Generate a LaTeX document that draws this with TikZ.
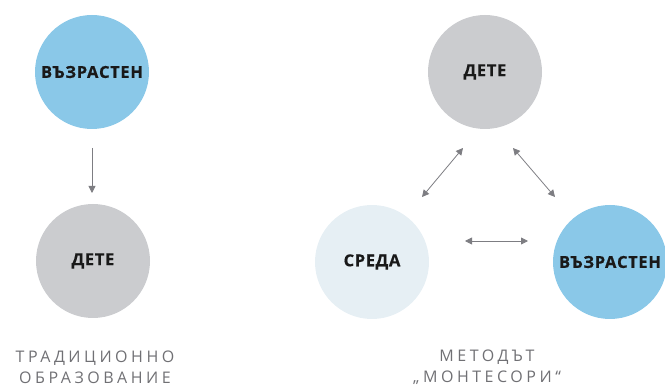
\documentclass[tikz,border=0pt]{standalone}
\usepackage{fontspec}
\setmainfont{Open Sans}
\newfontfamily\capfont[LetterSpace=22]{Open Sans}
\newfontfamily\blobfont[LetterSpace=4,BoldFeatures={FakeBold=0.5}]{Open Sans}
\usetikzlibrary{arrows.meta}
\definecolor{adultblue}{RGB}{138,200,232}
\definecolor{childgray}{RGB}{203,204,207}
\definecolor{envblue}{RGB}{230,239,244}
\definecolor{arrowgray}{RGB}{125,125,130}
\definecolor{capgray}{RGB}{112,112,116}
\def\rad{57pt}

\begin{document}
\begin{tikzpicture}[x=1pt,y=-1pt,>={Triangle[length=7pt,width=7pt]},draw=arrowgray]
    \tikzstyle{blob}=[circle,minimum size=2*\rad,inner sep=0pt,text=black!90,font=\blobfont\bfseries\fontsize{16.5}{18}\selectfont]
    \tikzstyle{adult}=[blob, fill=adultblue]
    \tikzstyle{child}=[blob, fill=childgray]
    \tikzstyle{env}=[blob, fill=envblue]
    \tikzstyle{link}=[<->,arrowgray,line width=0.8pt]
    \tikzstyle{caption}=[text=capgray,align=center,font=\capfont\fontsize{16}{21}\selectfont]

    \useasboundingbox (0,0) rectangle (665,390);

    % Draw the traditional side
    \node[adult] (A-1) at (92,72) {ВЪЗРАСТЕН};
    \node[child] (C-1) at (93,261) {ДЕТЕ};

    % Draw the Montessori side
    \node[child] (C-2) at (485,72) {ДЕТЕ};
    \node[env] (E) at (372,262) {СРЕДА};
    \node[adult] (A-2) at (610,262) {ВЪЗРАСТЕН};

    % Free ends of the arrows
    \coordinate (a-bottom) at (92,148);
    \coordinate (c-top) at (92,193);
    \coordinate (e-top) at (422,197);
    \coordinate (c-left) at (463,148);
    \coordinate (c-right) at (513,148);
    \coordinate (a-top) at (555,197);
    \coordinate (e-right) at (465,241);
    \coordinate (a-left) at (528,241);

    % Connect the nodes
    \draw[->,arrowgray,line width=0.8pt] (a-bottom) -- (c-top);
    \foreach \source / \dest in {c-left/e-top, c-right/a-top, e-right/a-left}
        \draw[link] (\source) -- (\dest);

    % Annotate the sides
    \node[caption] (t1) at (95,367) {ТРАДИЦИОННО\\ОБРАЗОВАНИЕ};
    \node[caption] (t2) at (487,367) {МЕТОДЪТ\\„МОНТЕСОРИ“};
\end{tikzpicture}
\end{document}
